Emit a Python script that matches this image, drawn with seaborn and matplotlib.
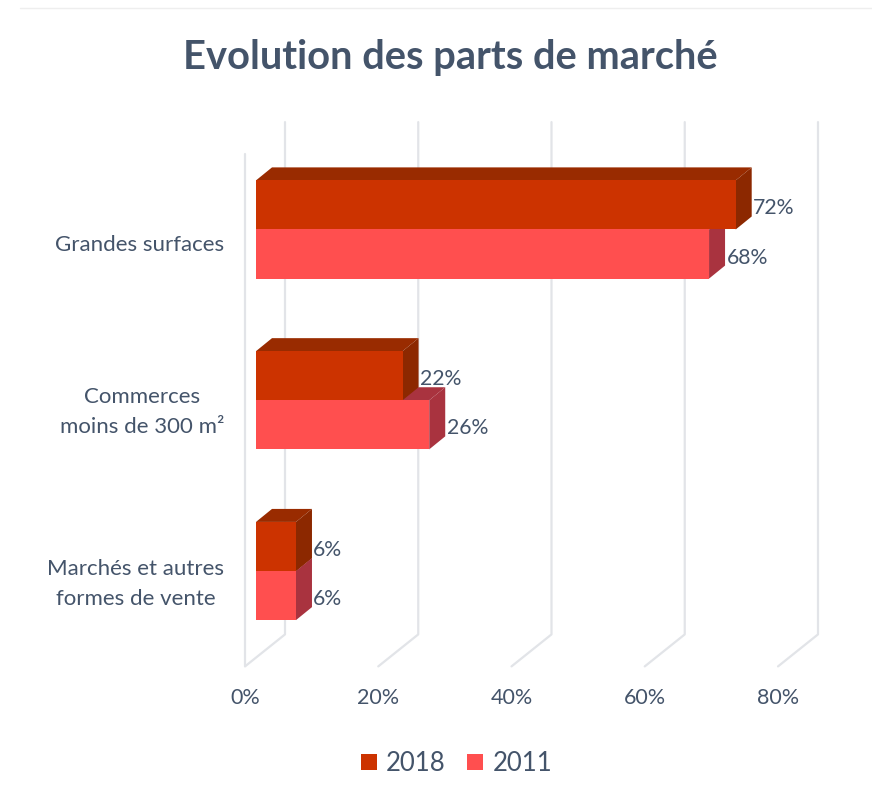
import pandas as pd
import matplotlib
matplotlib.use('Agg')
import matplotlib.pyplot as plt
import matplotlib.transforms as mtransforms
from matplotlib.lines import Line2D
from matplotlib.patches import Polygon
import seaborn as sns

# Data
categories = ['Grandes surfaces', 'Commerces\nmoins de 300 m²', 'Marchés et autres\nformes de vente']
parts_2018 = [72, 22, 6]
parts_2011 = [68, 26, 6]
annees = ['2018', '2011']
x_ticks = [0, 20, 40, 60, 80]

# Colours
TEXT = '#44546A'
GRID = '#E2E4E8'
colors = {'2018': '#CC3300', '2011': '#FF4F4F'}
side_colors = {'2018': '#8C2800', '2011': '#A9333F'}
top_colors = {'2018': '#992B00', '2011': '#A9333F'}

df = pd.DataFrame({
    'categorie': categories * 2,
    'part': parts_2018 + parts_2011,
    'annee': [annees[0]] * 3 + [annees[1]] * 3,
})

sns.set_theme(style='white')
plt.rcParams['font.family'] = ['Lato', 'DejaVu Sans']

W, H = 872, 798
fig = plt.figure(figsize=(W / 100, H / 100), dpi=100, facecolor='white')
ax = fig.add_axes([256 / W, 1 - 656.4 / H, 533 / W, 512.3 / H])

sns.barplot(data=df, x='part', y='categorie', hue='annee', hue_order=annees,
            palette=colors, width=0.575, gap=0, saturation=1, orient='h',
            linewidth=0, zorder=3, ax=ax)
ax.set_xlim(0, 80)
ax.set_ylim(2.5, -0.5)

# pixels -> data units
px_x = 80 / 533
px_y = 3 / 512.3

# fake 3D depth of the bars
depth_x, depth_y = 16 * px_x, 13 * px_y

# walls of the chart: shifted copies of the axes frame
front_x, front_y = -11 * px_x, 10 * px_y
back_x, back_y = 29 * px_x, -22 * px_y

# gridlines: back wall + floor, and the left wall line for 0
for v in x_ticks:
    ax.plot([v + back_x, v + back_x, v + front_x],
            [-0.5 + back_y, 2.5 + back_y, 2.5 + front_y],
            color=GRID, lw=1.6, zorder=0.5, clip_on=False)
ax.plot([front_x, front_x], [-0.5 + front_y, 2.5 + front_y],
        color=GRID, lw=1.6, zorder=0.5, clip_on=False)

# side and top faces, built from the bars seaborn drew
for container, annee, z in [(ax.containers[1], '2011', 1.5), (ax.containers[0], '2018', 2.5)]:
    for bar in container:
        x0, x1 = bar.get_x(), bar.get_x() + bar.get_width()
        y0, y1 = bar.get_y(), bar.get_y() + bar.get_height()
        top = [(x0, y0), (x1, y0), (x1 + depth_x, y0 - depth_y), (x0 + depth_x, y0 - depth_y)]
        side = [(x1, y0), (x1 + depth_x, y0 - depth_y), (x1 + depth_x, y1 - depth_y), (x1, y1)]
        ax.add_patch(Polygon(top, closed=True, fc=top_colors[annee], ec='none', zorder=z, clip_on=False))
        ax.add_patch(Polygon(side, closed=True, fc=side_colors[annee], ec='none', zorder=z, clip_on=False))

# value labels
for container, values in [(ax.containers[0], parts_2018), (ax.containers[1], parts_2011)]:
    texts = ax.bar_label(container, labels=[f'{v}%' for v in values], padding=12.5,
                         fontsize=15.3, color=TEXT, zorder=4)
    for t in texts:
        t.xyann = (12.5, -2.5)

# axes
sns.despine(ax=ax, left=True, bottom=True)
ax.set_xlabel('')
ax.set_ylabel('')
ax.set_xticks(x_ticks)
ax.set_xticklabels([f'{v}%' for v in x_ticks])
ax.tick_params(axis='x', length=0, pad=15.5, labelsize=15.5, labelcolor=TEXT)
ax.tick_params(axis='y', length=0, pad=15, labelsize=16, labelcolor=TEXT)

offset = mtransforms.Affine2D().translate(-11, -10)
for lbl in ax.get_xticklabels():
    lbl.set_transform(lbl.get_transform() + offset)
for lbl, dy in zip(ax.get_yticklabels(), [-14, -5, -6]):
    lbl.set_transform(lbl.get_transform() + mtransforms.Affine2D().translate(-11, dy))
    lbl.set_multialignment('center')
    lbl.set_linespacing(1.6)

# legend
handles, labels = ax.get_legend_handles_labels()
ax.legend_.remove()
fig.legend(handles, labels, loc='center', bbox_to_anchor=(456.5 / W, 1 - 763.5 / H), ncol=2,
           frameon=False, fontsize=18.5, labelcolor=TEXT, handlelength=0.62, handleheight=0.62,
           handletextpad=0.35, columnspacing=0.85)

# title and rule at the top
fig.text(450.5 / W, 1 - 57 / H, 'Evolution des parts de marché', ha='center', va='center',
         fontsize=28.7, fontweight='bold', color=TEXT)
fig.add_artist(Line2D([20 / W, 1], [1 - 8 / H, 1 - 8 / H], color='#EEEEEE', lw=1))

fig.savefig('out.png', dpi=100)
